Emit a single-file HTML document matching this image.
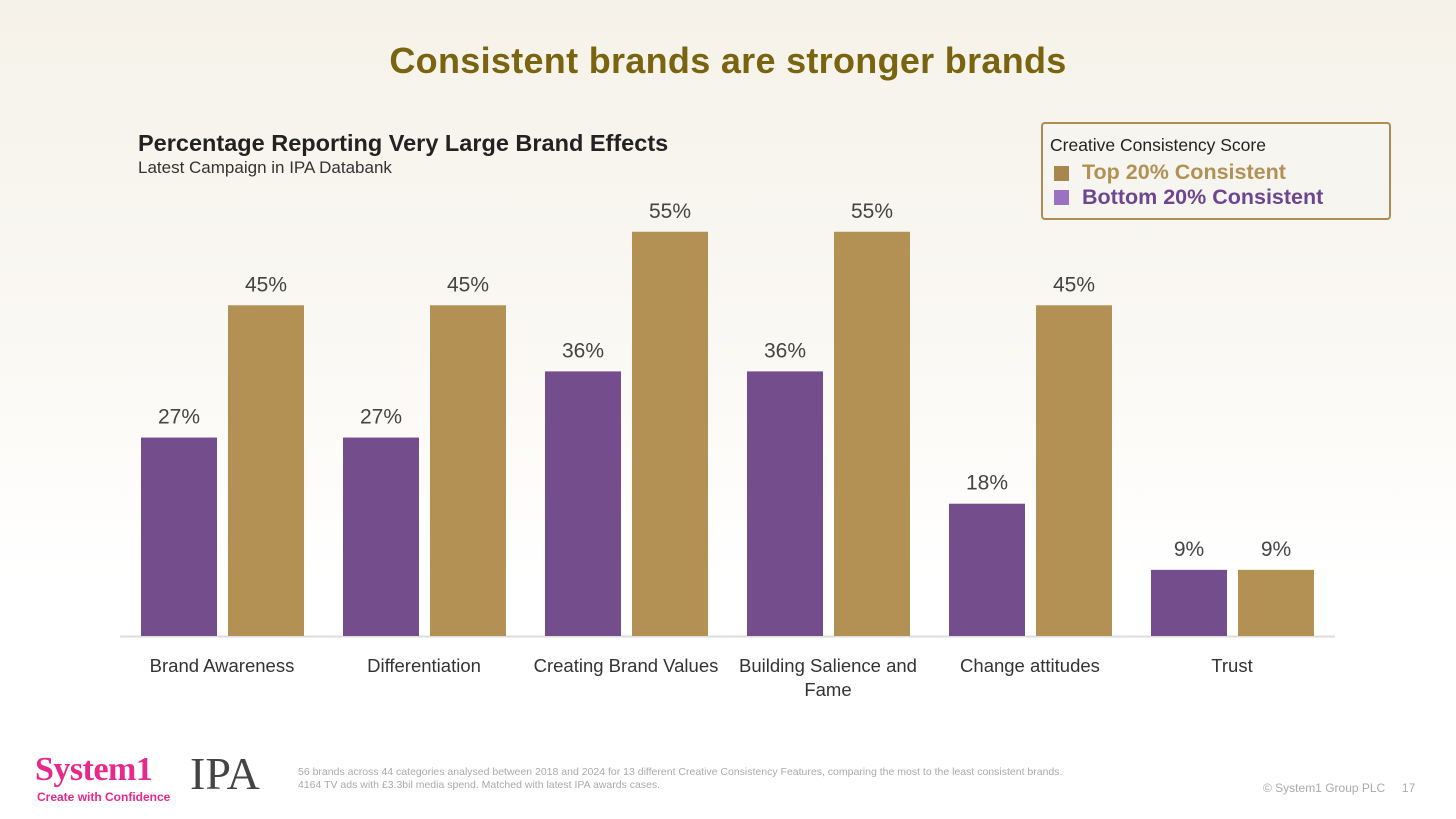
<!DOCTYPE html>
<html><head><meta charset="utf-8"><style>
body{margin:0;width:1456px;height:819px;overflow:hidden;font-family:"Liberation Sans",sans-serif;background:linear-gradient(#f5f2e9 0%,#faf8f3 40%,#ffffff 70%);position:relative}
.a{position:absolute;margin:0}
</style></head><body>
<h1 class="a" style="left:0;width:1456px;top:40px;text-align:center;font-size:36px;font-weight:bold;color:#7a6410;letter-spacing:0.3px">Consistent brands are stronger brands</h1>
<div class="a" style="left:138px;top:130px;font-size:23.5px;font-weight:bold;color:#222">Percentage Reporting Very Large Brand Effects</div>
<div class="a" style="left:138px;top:158px;font-size:17px;color:#333">Latest Campaign in IPA Databank</div>
<div class="a" style="left:1041px;top:122px;width:350px;height:98px;border:2px solid #b08c50;border-radius:4px;box-sizing:border-box;background:#f7f5f0">
<div class="a" style="left:7px;top:11px;font-size:17.5px;color:#222">Creative Consistency Score</div>
<div class="a" style="left:11px;top:42px;width:15px;height:15px;background:#a8874f"></div>
<div class="a" style="left:39px;top:36px;font-size:21.5px;font-weight:bold;color:#b39155">Top 20% Consistent</div>
<div class="a" style="left:11px;top:66px;width:15px;height:15px;background:#9b72bf"></div>
<div class="a" style="left:39px;top:61px;font-size:21.5px;font-weight:bold;color:#6e4690">Bottom 20% Consistent</div>
</div>
<svg class="a" style="left:0;top:0" width="1456" height="819" id="chart"></svg>
<div class="a" style="left:35px;top:751px;font-family:'Liberation Serif',serif;font-size:34px;font-weight:bold;color:#e8288a;letter-spacing:-0.5px">System1</div>
<div class="a" style="left:37px;top:790px;font-size:12px;font-weight:bold;color:#e8288a">Create with Confidence</div>
<div class="a" style="left:190px;top:747px;font-family:'Liberation Serif',serif;font-size:46px;color:#444">IPA</div>
<div class="a" style="left:298px;top:766px;font-size:10.5px;color:#aaa;line-height:13px">56 brands across 44 categories analysed between 2018 and 2024 for 13 different Creative Consistency Features, comparing the most to the least consistent brands.<br>4164 TV ads with £3.3bil media spend. Matched with latest IPA awards cases.</div>
<div class="a" style="left:1263px;top:781px;font-size:12px;color:#aaa">© System1 Group PLC &nbsp;&nbsp;&nbsp;&nbsp;17</div>
<script>
const categories=[["Brand Awareness"],["Differentiation"],["Creating Brand Values"],["Building Salience and","Fame"],["Change attitudes"],["Trust"]];
const bottomValues=[27,27,36,36,18,9];
const topValues=[45,45,55,55,45,9];
const svg=document.getElementById('chart');const NS='http://www.w3.org/2000/svg';
const baseY=636,pxPer=7.35,x0=222,step=202;
const y=v=>baseY-v*pxPer;const cx=i=>x0+i*step;
function mk(t,a){const e=document.createElementNS(NS,t);for(const k in a)e.setAttribute(k,a[k]);svg.appendChild(e);return e;}
const ax=mk('line',{x1:120,x2:1335,y1:baseY+0.5,y2:baseY+0.5,stroke:'#ddd','stroke-width':2});


categories.forEach((c,i)=>{
 [[bottomValues[i],-81,'#734d8c','bottom'],[topValues[i],6,'#b39155','top']].forEach(([v,dx,col,s])=>{
  const r=mk('rect',{x:cx(i)+dx,y:y(v),width:76,height:v*pxPer,fill:col});
  
  
  const t=mk('text',{x:cx(i)+dx+38,y:y(v)-14,'text-anchor':'middle','font-size':21,fill:'#444','font-family':'Liberation Sans, sans-serif'});
  t.textContent=v+'%';
  
  
 });
 c.forEach((line,j)=>{
  const t=mk('text',{x:cx(i),y:672+j*24,'text-anchor':'middle','font-size':18.5,fill:'#333','font-family':'Liberation Sans, sans-serif'});
  t.textContent=line;
  
  
 });
});
</script>
</body></html>
